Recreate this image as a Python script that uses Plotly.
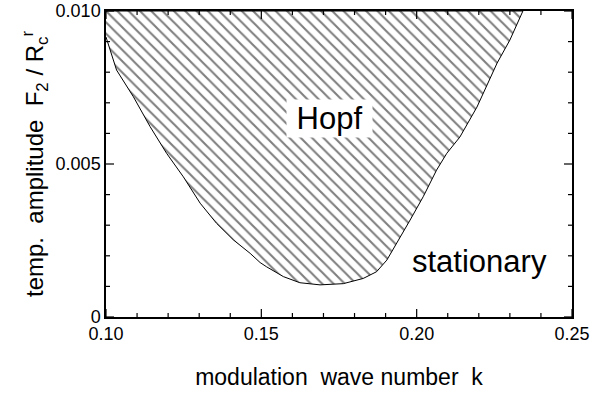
import plotly.graph_objects as go

# Boundary between Hopf (hatched) and stationary regions
k_boundary = [0.1000, 0.1034, 0.1088, 0.1142, 0.1195, 0.1249, 0.1303, 0.1356, 0.1410,
              0.1464, 0.1496, 0.1517, 0.1571, 0.1624, 0.1689, 0.1764, 0.1828, 0.1871,
              0.1904, 0.1936, 0.1979, 0.2021, 0.2064, 0.2097, 0.2139, 0.2194, 0.2259,
              0.2300, 0.2342]
f_boundary = [0.00915, 0.00807, 0.00720, 0.00622, 0.00535, 0.00458, 0.00372, 0.00306, 0.00252,
              0.00208, 0.00178, 0.00164, 0.00132, 0.00112, 0.00105, 0.00109, 0.00126, 0.00148,
              0.00186, 0.00241, 0.00317, 0.00393, 0.00480, 0.00535, 0.00588, 0.00686, 0.00830,
              0.00905, 0.01000]
f_top = 0.010

x_range = [0.10, 0.25]
y_range = [0.0, 0.010]
x_major = [0.10, 0.15, 0.20, 0.25]
x_minor = [0.11, 0.12, 0.13, 0.14, 0.16, 0.17, 0.18, 0.19, 0.21, 0.22, 0.23, 0.24]
y_major = [0.0, 0.005, 0.010]
y_minor = [0.001, 0.002, 0.003, 0.004, 0.006, 0.007, 0.008, 0.009]

W, H = 593, 401
M = dict(l=106, r=21, t=11, b=84)
px_x = (W - M["l"] - M["r"]) / (x_range[1] - x_range[0])   # pixels per x unit
px_y = (H - M["t"] - M["b"]) / (y_range[1] - y_range[0])   # pixels per y unit

region_x = k_boundary + [k_boundary[0]]
region_y = f_boundary + [f_top]

fig = go.Figure()
fig.add_trace(go.Scatter(
    x=region_x, y=region_y, mode="lines", fill="toself",
    fillcolor="white",
    fillpattern=dict(shape="\\", fgcolor="black", bgcolor="white", size=8, solidity=0.26),
    line=dict(color="black", width=1), hoverinfo="skip", showlegend=False))

# Inside tick marks on all four sides, built from the tick lists
tx, ty = [], []
for vals, length in ((x_major, 8), (x_minor, 4)):
    dy = length / px_y
    for v in vals:
        tx += [v, v, None, v, v, None]
        ty += [y_range[0], y_range[0] + dy, None, y_range[1], y_range[1] - dy, None]
for vals, length in ((y_major, 8), (y_minor, 4)):
    dx = length / px_x
    for v in vals:
        tx += [x_range[0], x_range[0] + dx, None, x_range[1], x_range[1] - dx, None]
        ty += [v, v, None, v, v, None]
fig.add_trace(go.Scatter(x=tx, y=ty, mode="lines", line=dict(color="black", width=1.2),
                         hoverinfo="skip", showlegend=False, cliponaxis=False))

font = "Liberation Sans, Arial, Helvetica, sans-serif"

fig.add_annotation(x=0.1721, y=0.0065, text="&nbsp;Hopf&nbsp;", showarrow=False,
                   font=dict(family=font, size=31, color="black"),
                   bgcolor="white", borderpad=1)
fig.add_annotation(x=0.2201, y=0.0018, text="stationary", showarrow=False,
                   font=dict(family=font, size=31, color="black"))

fig.update_xaxes(range=x_range, tickvals=x_major, tickformat=".2f", tickmode="array",
                 showline=True, linecolor="black", linewidth=1.5, mirror=True,
                 ticks="", showgrid=False, zeroline=False,
                 tickfont=dict(family=font, size=18, color="black"),
                 title=dict(text="modulation&nbsp; wave number&nbsp; k",
                            font=dict(family=font, size=23, color="black"), standoff=26))
fig.update_yaxes(range=y_range, tickvals=y_major, tickformat=".3f", tickmode="array",
                 labelalias={"0.000": "0"},
                 showline=True, linecolor="black", linewidth=1.5, mirror=True,
                 ticks="", showgrid=False, zeroline=False,
                 tickfont=dict(family=font, size=18, color="black"),
                 title=dict(text="temp.&nbsp; amplitude&nbsp; F<sub>2</sub>&nbsp;/&nbsp;R<sub>c</sub><sup>r</sup>",
                            font=dict(family=font, size=24, color="black"), standoff=5))

fig.update_layout(template="simple_white", width=W, height=H,
                  margin=dict(**M, autoexpand=False),
                  paper_bgcolor="white", plot_bgcolor="white")

fig.write_html("out.html")
